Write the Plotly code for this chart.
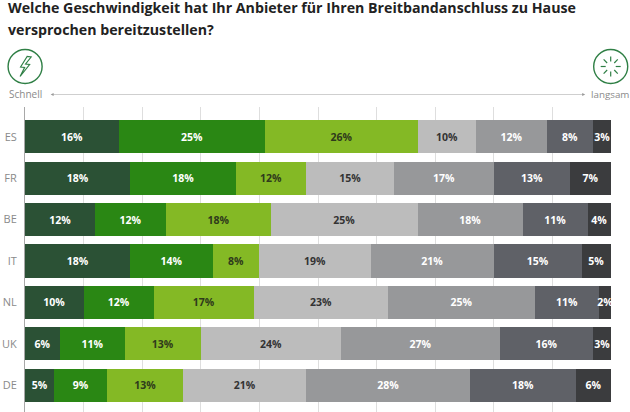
import math

import plotly.graph_objects as go

W, H = 630, 412
LEFT, RIGHT, TOP = 25.4, 610.8, 107

countries = ["ES", "FR", "BE", "IT", "NL", "UK", "DE"]
stufe_1 = [16, 18, 12, 18, 10, 6, 5]
stufe_2 = [25, 18, 12, 14, 12, 11, 9]
stufe_3 = [26, 12, 18, 8, 17, 13, 13]
stufe_4 = [10, 15, 25, 19, 23, 24, 21]
stufe_5 = [12, 17, 18, 21, 25, 27, 28]
stufe_6 = [8, 13, 11, 15, 11, 16, 18]
stufe_7 = [3, 7, 4, 5, 2, 3, 6]

series = [stufe_1, stufe_2, stufe_3, stufe_4, stufe_5, stufe_6, stufe_7]
colors = ["#2b5135", "#2a8714", "#84b925", "#bcbcbc", "#97989a", "#5f6167", "#3b3c3e"]
text_colors = ["#ffffff", "#ffffff", "#2f3a1c", "#333333", "#ffffff", "#ffffff", "#ffffff"]
tick_vals = [0, 10, 20, 30, 40, 50, 60, 70, 80, 90, 100]

ICON_GREEN = "#2f7f45"
FONT = "Open Sans"


def px(x):
	return (x - LEFT) / (RIGHT - LEFT)


def py(y):
	return 1 - (y - TOP) / (H - TOP)


def paper_shape(**kwargs):
	return dict(xref="paper", yref="paper", **kwargs)


def path_shape(points, **kwargs):
	d = "M " + " L ".join(f"{px(x):.5f},{py(y):.5f}" for x, y in points) + " Z"
	return paper_shape(type="path", path=d, **kwargs)


def line_shape(x0, y0, x1, y1, color, width):
	return paper_shape(type="line", x0=px(x0), y0=py(y0), x1=px(x1), y1=py(y1), line=dict(color=color, width=width))


def circle_shape(cx, cy, r):
	return paper_shape(type="circle", x0=px(cx - r), x1=px(cx + r), y0=py(cy - r), y1=py(cy + r),
					   line=dict(color=ICON_GREEN, width=1.4))


def label(x, y, text, size, color, anchor="left", bold=False):
	return dict(xref="paper", yref="paper", x=px(x), y=py(y), text=f"<b>{text}</b>" if bold else text, showarrow=False,
				xanchor=anchor, yanchor="middle", align="left", font=dict(family=FONT, size=size, color=color))


fig = go.Figure()
for values, color, text_color in zip(series, colors, text_colors):
	fig.add_trace(go.Bar(y=countries, x=values, orientation="h", width=0.8, marker=dict(color=color, line=dict(width=0)),
						 text=[f"{v}%" for v in values], textposition="inside", insidetextanchor="middle",
						 textangle=0, constraintext="none", cliponaxis=False,
						 textfont=dict(family=FONT, size=10.5, color=text_color, weight="bold")))

shapes = [
	circle_shape(25.5, 66.5, 17),
	circle_shape(610.5, 66.5, 17),
	line_shape(53, 94.5, 583, 94.5, "#cfcfcf", 1),
	path_shape([(51, 94.5), (54, 93), (54, 96)], fillcolor="#999999", line=dict(width=0)),
	path_shape([(585, 94.5), (582, 93), (582, 96)], fillcolor="#999999", line=dict(width=0)),
	path_shape([(27.5, 56.5), (21, 67), (25, 67.5), (20.5, 76.5), (30, 64.5), (26, 64), (31.5, 57)],
			   fillcolor="rgba(0,0,0,0)", line=dict(color=ICON_GREEN, width=1.2)),
]
# Strahlen des Spinners
for i in range(8):
	angle = math.radians(i * 45)
	r0, r1 = (5, 10)
	shapes.append(line_shape(610.5 + r0 * math.sin(angle), 66.5 - r0 * math.cos(angle),
							 610.5 + r1 * math.sin(angle), 66.5 - r1 * math.cos(angle), ICON_GREEN, 1.2))

annotations = [
	label(6.5, 7.5, "Welche Geschwindigkeit hat Ihr Anbieter für Ihren Breitbandanschluss zu Hause", 14.2, "#222222", bold=True),
	label(6.5, 29, "versprochen bereitzustellen?", 14.2, "#222222", bold=True),
	label(7, 94, "Schnell", 10, "#8a8a8a"),
	label(589, 94, "langsam", 9.8, "#8a8a8a"),
]

fig.update_layout(
	width=W, height=H, barmode="stack", showlegend=False, plot_bgcolor="white", paper_bgcolor="white",
	margin=dict(l=LEFT, r=W - RIGHT, t=TOP, b=0), shapes=shapes, annotations=annotations,
	font=dict(family=FONT),
)
fig.update_xaxes(range=[0, 100], tickvals=tick_vals, showticklabels=False, showgrid=True, gridcolor="#dedede", gridwidth=1,
				 zeroline=False, ticks="")
fig.update_yaxes(categoryorder="array", categoryarray=countries, range=[6.65, -0.72], showgrid=False, zeroline=False,
				 ticks="", showline=True, linecolor="#a8a8a8", linewidth=1, ticklabelstandoff=5,
				 tickfont=dict(family=FONT, size=11, color="#8a8a8a"))

fig.write_html("out.html", config=dict(displayModeBar=False), post_script="document.body.style.margin='0';")
